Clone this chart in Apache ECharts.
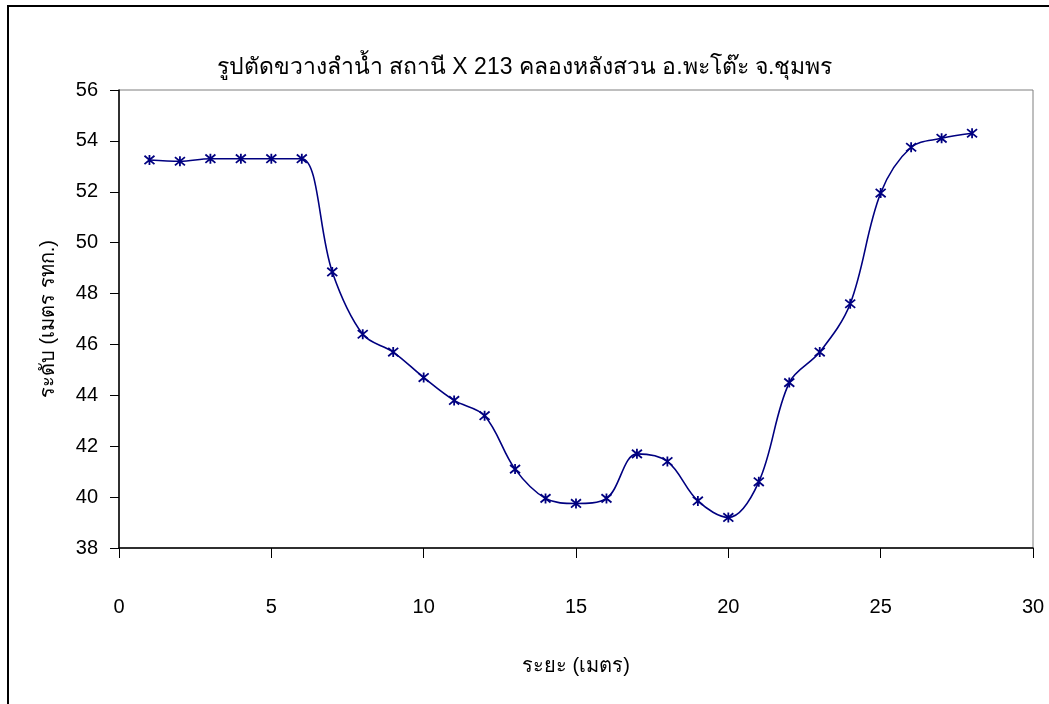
<!DOCTYPE html>
<html>
<head>
<meta charset="utf-8">
<script src="https://cdn.jsdelivr.net/npm/echarts@6/dist/echarts.min.js"></script>
<style>
  html, body { margin: 0; padding: 0; background: #fff; }
  #chart { width: 1049px; height: 704px; }
</style>
</head>
<body>
<div id="chart"></div>
<script>
// Cross-section survey: distance from bank (m) and bed level (m MSL)
const distances = [1, 2, 3, 4, 5, 6, 7, 8, 9, 10, 11, 12, 13, 14, 15, 16, 17, 18, 19, 20, 21, 22, 23, 24, 25, 26, 27, 28];
const levels = [53.25, 53.2, 53.3, 53.3, 53.3, 53.3, 48.85, 46.4, 45.7, 44.7, 43.8, 43.2, 41.1, 39.95, 39.75, 39.95, 41.7, 41.4, 39.85, 39.2, 40.6, 44.5, 45.7, 47.6, 51.95, 53.75, 54.1, 54.3];

const titleText = 'รูปตัดขวางลำน้ำ สถานี X 213 คลองหลังสวน อ.พะโต๊ะ จ.ชุมพร';
const xTitle = 'ระยะ (เมตร)';
const yTitle = 'ระดับ (เมตร รทก.)';

const FONT = '"Liberation Sans", Arial, "Noto Sans", sans-serif';
const NAVY = '#000080';

const chart = echarts.init(document.getElementById('chart'), null, { renderer: 'canvas' });

chart.setOption({
  animation: false,
  backgroundColor: '#fff',
  title: {
    text: titleText,
    left: 'center',
    top: 51,
    textStyle: { fontFamily: FONT, fontSize: 23, fontWeight: 'normal', color: '#000' }
  },
  graphic: [{
    type: 'rect',
    shape: { x: 8, y: 6, width: 1200, height: 900 },
    style: { fill: 'none', stroke: '#000', lineWidth: 2 },
    silent: true
  }],
  grid: {
    left: 119, right: 16, top: 90, bottom: 156,
    show: true,
    borderColor: '#7f7f7f',
    borderWidth: 1
  },
  xAxis: {
    type: 'value',
    min: 0, max: 30, interval: 5,
    name: xTitle,
    nameLocation: 'middle',
    nameGap: 108,
    nameTextStyle: { fontFamily: FONT, fontSize: 20, color: '#000' },
    axisLine: { show: true, onZero: false, lineStyle: { color: '#000', width: 1.5 } },
    axisTick: { show: true, inside: false, length: 10, lineStyle: { color: '#000', width: 1 } },
    axisLabel: { margin: 49, fontFamily: FONT, fontSize: 20, color: '#000' },
    splitLine: { show: false }
  },
  yAxis: {
    type: 'value',
    min: 38, max: 56, interval: 2,
    name: yTitle,
    nameLocation: 'middle',
    nameGap: 61,
    nameRotate: 90,
    nameTextStyle: { fontFamily: FONT, fontSize: 20, color: '#000' },
    axisLine: { show: true, lineStyle: { color: '#000', width: 1.5 } },
    axisTick: { show: true, inside: false, length: 9, lineStyle: { color: '#000', width: 1 } },
    axisLabel: { margin: 21, fontFamily: FONT, fontSize: 20, color: '#000' },
    splitLine: { show: false }
  },
  series: [{
    type: 'line',
    data: distances.map((d, i) => [d, levels[i]]),
    smooth: 0.35,
    symbol: 'path://M0,0L10,10M10,0L0,10M5,-1L5,11',
    symbolSize: 10,
    showAllSymbol: true,
    lineStyle: { color: NAVY, width: 1.6 },
    itemStyle: { color: NAVY, borderColor: NAVY, borderWidth: 1.8 }
  }]
});
</script>
</body>
</html>
